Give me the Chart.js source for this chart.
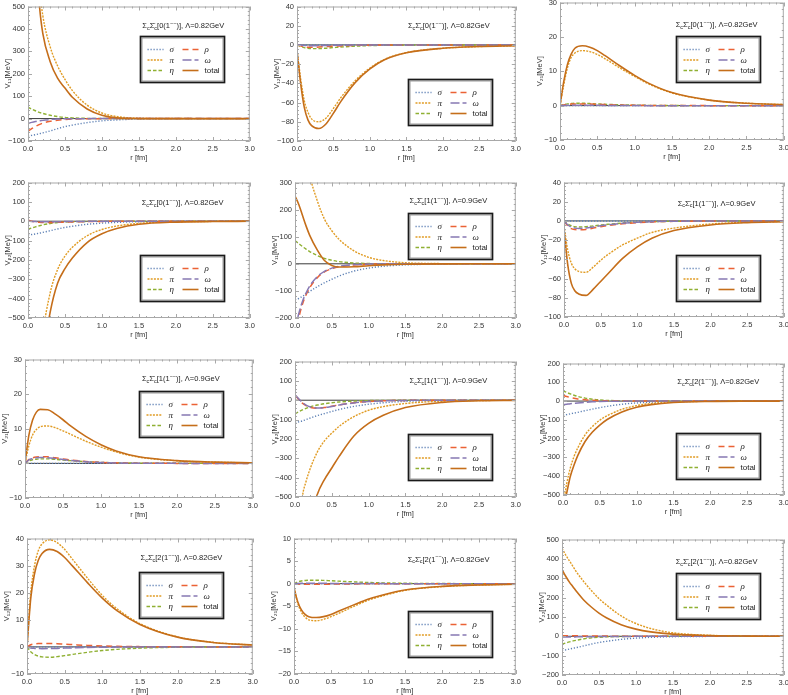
<!DOCTYPE html>
<html>
<head>
<meta charset="utf-8">
<script src="https://cdn.jsdelivr.net/npm/chart.js@4.4.1/dist/chart.umd.min.js"></script>
<style>
  html, body { margin: 0; padding: 0; background: #fff; overflow: hidden; }
  body { width: 788px; height: 695px; position: relative; }
  canvas { position: absolute; }
</style>
</head>
<body>
<script>
// radial grid (fm), shared by every panel
const rValues = [0, 0.05, 0.1, 0.15, 0.2, 0.3, 0.4, 0.5, 0.6, 0.8, 1.0, 1.2, 1.5, 2.0, 2.5, 3.0];

// one row per panel (left to right, top to bottom), values in MeV
const sigmaV = [
  [-78, -75, -72, -68, -64, -55, -45, -36, -29, -18, -10, -6, -2, -0.5, 0, 0],
  [0, 0, 0, 0, 0, 0, 0, 0, 0, 0, 0, 0, 0, 0, 0, 0],
  [0, 0, 0, 0, 0, 0, 0, 0, 0, 0, 0, 0, 0, 0, 0, 0],
  [-70, -69, -66, -62, -58, -49, -40, -32, -26, -16, -10, -6, -2.5, -0.7, -0.2, 0],
  [-132, -128, -120, -112, -102, -85, -70, -57, -45, -27, -16, -9, -4, -1, -0.3, 0],
  [0, 0, 0, 0, 0, 0, 0, 0, 0, 0, 0, 0, 0, 0, 0, 0],
  [0, 0, 0, 0, 0, 0, 0, 0, 0, 0, 0, 0, 0, 0, 0, 0],
  [-115, -112, -107, -100, -93, -80, -69, -58, -48, -32, -21, -13, -6, -1.8, -0.5, -0.1],
  [-75, -72, -68, -64, -60, -51, -43, -35, -28, -17, -10, -6, -2.5, -0.6, -0.1, 0],
  [0, 0, 0, 0, 0, 0, 0, 0, 0, 0, 0, 0, 0, 0, 0, 0],
  [0, 0, 0, 0, 0, 0, 0, 0, 0, 0, 0, 0, 0, 0, 0, 0],
  [-72, -70, -66, -62, -58, -49, -40, -32, -26, -16, -9.5, -5.5, -2.2, -0.6, -0.1, 0]
];
const piV = [
  [2000, 1300, 850, 600, 460, 320, 235, 175, 125, 60, 25, 9, 2, 0.2, 0, 0],
  [-5, -35, -58, -70, -77, -80, -76, -66, -55, -37, -24, -15, -8, -3.5, -1.7, -0.8],
  [0, 6, 11, 14, 15.3, 16, 15.7, 14.9, 13.7, 11, 8.5, 6.2, 3.7, 1.6, 0.7, 0.3],
  [-2500, -1800, -1200, -850, -600, -370, -250, -180, -135, -75, -43, -25, -11, -3, -1, -0.3],
  [800, 650, 520, 420, 330, 235, 165, 122, 90, 48, 24, 12, 4, 0.7, 0.1, 0],
  [-5, -30, -44, -50, -52.5, -53.5, -48, -41, -35, -25, -18, -12, -7.5, -3.2, -1.4, -0.6],
  [0, 5, 8.2, 9.8, 10.6, 10.8, 10.3, 9.4, 8.4, 6.4, 4.7, 3.3, 1.8, 0.75, 0.35, 0.15],
  [-1000, -700, -500, -420, -360, -270, -210, -170, -135, -85, -52, -33, -17, -5, -1.6, -0.5],
  [-560, -440, -355, -295, -250, -180, -135, -102, -78, -44, -24, -13, -5, -1.2, -0.3, 0],
  [0, 20, 30, 35.5, 38, 39.5, 38.5, 36, 32.5, 25.5, 19, 14, 8.6, 3.7, 1.6, 0.7],
  [-1, -4.3, -6.3, -7.4, -8.0, -8.2, -7.9, -7.3, -6.6, -5.1, -3.7, -2.7, -1.5, -0.65, -0.3, -0.12],
  [455, 420, 390, 360, 330, 280, 235, 195, 162, 105, 66, 40, 18, 5, 1.3, 0.3]
];
const etaV = [
  [51, 42, 35, 28, 23, 15, 9, 5, 3, 1, 0.3, 0.1, 0, 0, 0, 0],
  [0, -1.5, -2.8, -3.5, -3.8, -3.8, -3.4, -2.8, -2.2, -1.3, -0.7, -0.4, -0.15, 0, 0, 0],
  [0, 0.3, 0.5, 0.6, 0.7, 0.7, 0.6, 0.5, 0.4, 0.25, 0.15, 0.08, 0.03, 0, 0, 0],
  [-43, -35, -29, -24, -19, -12, -7, -4, -2.5, -1, -0.4, -0.15, 0, 0, 0, 0],
  [85, 75, 64, 54, 45, 31, 20, 13, 8, 3, 1, 0.4, 0.1, 0, 0, 0],
  [0, -3, -5, -6, -6.3, -6, -5.2, -4.3, -3.5, -2.2, -1.3, -0.8, -0.4, -0.1, 0, 0],
  [0, 0.7, 1.05, 1.2, 1.3, 1.3, 1.15, 0.95, 0.78, 0.5, 0.3, 0.18, 0.08, 0.02, 0, 0],
  [-70, -60, -50, -42, -35, -25, -18, -13, -9, -4.5, -2, -1, -0.3, 0, 0, 0],
  [55, 46, 38, 31, 25, 16, 10, 6, 3.5, 1.3, 0.5, 0.2, 0, 0, 0, 0],
  [0, -1.8, -2.8, -3.4, -3.7, -3.8, -3.6, -3.2, -2.8, -2.0, -1.35, -0.9, -0.45, -0.13, -0.04, 0],
  [0, 0.4, 0.6, 0.7, 0.75, 0.77, 0.72, 0.64, 0.56, 0.4, 0.27, 0.18, 0.09, 0.03, 0.01, 0],
  [-42, -35, -29, -24, -20, -13, -8, -5, -3, -1.2, -0.5, -0.2, 0, 0, 0, 0]
];
const rhoV = [
  [-56, -45, -35, -27, -20, -12, -7, -4, -2, -1, -0.3, 0, 0, 0, 0, 0],
  [0, -1, -2, -2.5, -2.5, -2.2, -1.8, -1.3, -1, -0.5, -0.2, -0.1, 0, 0, 0, 0],
  [0, 0.2, 0.35, 0.45, 0.5, 0.5, 0.45, 0.38, 0.3, 0.18, 0.1, 0.05, 0.02, 0, 0, 0],
  [5, 0, -4, -6, -7, -7, -6, -5, -3.5, -2, -1, -0.5, -0.2, 0, 0, 0],
  [-260, -200, -150, -115, -88, -52, -30, -18, -11, -4, -1.5, -0.5, -0.1, 0, 0, 0],
  [0, -5, -8, -9, -9.3, -8.8, -7.5, -6, -4.8, -3, -1.8, -1, -0.4, -0.1, 0, 0],
  [0, 1.1, 1.6, 1.85, 1.95, 1.9, 1.6, 1.3, 1.0, 0.55, 0.3, 0.15, 0.05, 0, 0, 0],
  [25, 5, -15, -28, -36, -41, -38, -31, -24, -13, -6.5, -3, -1, -0.2, 0, 0],
  [30, 24, 19, 15, 11, 6.5, 3.8, 2.2, 1.2, 0.4, 0.1, 0, 0, 0, 0, 0],
  [0, 0.8, 1.1, 1.25, 1.3, 1.3, 1.2, 1.0, 0.85, 0.55, 0.35, 0.2, 0.1, 0.03, 0, 0],
  [0, -0.1, -0.15, -0.15, -0.15, -0.14, -0.12, -0.1, -0.08, -0.05, -0.03, -0.02, 0, 0, 0, 0],
  [3, 3, 2.8, 2.6, 2.4, 2, 1.6, 1.3, 1, 0.6, 0.3, 0.15, 0.05, 0, 0, 0]
];
const omegaV = [
  [-22, -17, -13, -10, -8, -4, -2, -1, -0.5, -0.2, 0, 0, 0, 0, 0, 0],
  [0, -0.3, -0.6, -0.8, -0.8, -0.7, -0.6, -0.4, -0.3, -0.15, -0.05, 0, 0, 0, 0, 0],
  [0, 0.05, 0.1, 0.12, 0.13, 0.12, 0.1, 0.08, 0.06, 0.03, 0.01, 0, 0, 0, 0, 0],
  [0, -1, -2, -2.5, -3, -3, -2.5, -2, -1.5, -0.8, -0.4, -0.2, 0, 0, 0, 0],
  [-240, -185, -140, -108, -82, -48, -28, -16, -9, -3, -1, -0.3, 0, 0, 0, 0],
  [0, -4, -6.5, -7.5, -7.8, -7.3, -6.2, -5, -4, -2.5, -1.5, -0.8, -0.3, -0.1, 0, 0],
  [0, 1.0, 1.4, 1.6, 1.7, 1.65, 1.4, 1.1, 0.85, 0.45, 0.25, 0.12, 0.04, 0, 0, 0],
  [28, 8, -12, -25, -34, -40, -38, -32, -25, -14, -7, -3.5, -1, -0.2, 0, 0],
  [-20, -17, -14, -12, -10, -6.5, -4, -2.5, -1.5, -0.5, -0.2, 0, 0, 0, 0, 0],
  [0, -0.4, -0.55, -0.6, -0.65, -0.62, -0.55, -0.45, -0.37, -0.22, -0.13, -0.07, -0.02, 0, 0, 0],
  [0, 0.05, 0.08, 0.09, 0.09, 0.08, 0.07, 0.06, 0.05, 0.03, 0.02, 0.01, 0, 0, 0, 0],
  [-4, -3.8, -3.5, -3.2, -3, -2.5, -2, -1.6, -1.2, -0.7, -0.4, -0.2, -0.05, 0, 0, 0]
];
const totalV = [
  [1900, 1200, 760, 520, 380, 254, 180, 136, 95, 43, 15, 3, 0, -0.3, 0, 0],
  [-6, -40, -65, -78, -84, -87, -82, -71, -59, -39, -25, -15.5, -8.2, -3.5, -1.7, -0.8],
  [0, 7, 12, 15, 16.7, 17.4, 17, 16, 14.6, 11.6, 8.8, 6.4, 3.8, 1.6, 0.7, 0.3],
  [-2600, -1900, -1300, -950, -720, -470, -320, -245, -190, -110, -65, -38, -16, -4.5, -1.5, -0.5],
  [250, 220, 180, 140, 105, 52, 12, -6, -12, -11, -7, -4, -1.5, -0.3, 0, 0],
  [-8, -45, -65, -73, -76, -77.5, -71, -63, -55, -39, -27, -18, -10, -4.2, -1.8, -0.8],
  [0, 8, 12.5, 14.8, 15.6, 15.5, 14.2, 12.6, 10.8, 7.8, 5.4, 3.6, 1.9, 0.8, 0.35, 0.15],
  [-1500, -1200, -950, -780, -640, -490, -410, -350, -290, -185, -120, -78, -38, -11, -3, -1],
  [-580, -490, -400, -340, -290, -215, -165, -128, -98, -58, -33, -19, -8, -2, -0.4, -0.1],
  [0, 18, 27, 32, 34.5, 36, 35.2, 33, 30, 23.8, 18, 13.3, 8.3, 3.6, 1.55, 0.7],
  [-0.9, -4.0, -5.8, -6.8, -7.3, -7.5, -7.3, -6.8, -6.1, -4.75, -3.45, -2.5, -1.4, -0.6, -0.28, -0.12],
  [345, 310, 280, 255, 230, 185, 150, 120, 96, 60, 37, 23, 11, 3.5, 1, 0.3]
];

const yTitles = ['V₁₁[MeV]', 'V₁₂[MeV]', 'V₂₁[MeV]', 'V₂₂[MeV]',
                 'V₁₁[MeV]', 'V₁₂[MeV]', 'V₂₁[MeV]', 'V₂₂[MeV]',
                 'V₁₁[MeV]', 'V₁₂[MeV]', 'V₂₁[MeV]', 'V₂₂[MeV]'];
const isospin = [0, 0, 0, 0, 1, 1, 1, 1, 2, 2, 2, 2];
const cutoffs = ['0.82', '0.82', '0.82', '0.82', '0.9', '0.9', '0.9', '0.9', '0.82', '0.82', '0.82', '0.82'];
const yMins  = [-100, -100, -10, -500, -200, -100, -10, -500, -500, -10, -20, -200];
const yMaxs  = [500, 40, 30, 200, 300, 40, 30, 200, 200, 40, 10, 500];
const ySteps = [100, 20, 10, 100, 100, 20, 10, 100, 100, 10, 5, 100];

const legendNames = ['σ', 'π', 'η', 'ρ', 'ω', 'total'];

// ---- layout / style (not data) ----
// plot area of each panel in page pixels: left, top, right, bottom
const plotRects = [
  [28, 5, 250, 141], [297, 5, 516, 141], [560, 1, 784, 140],
  [28, 181, 250, 318], [295, 181, 516, 318], [564, 181, 784, 317],
  [25, 358, 253, 498], [295, 360, 516, 497], [563, 362, 784, 495],
  [27, 537, 253, 674], [294, 537, 516, 674], [562, 538, 784, 675]
];
// legend top-left and title centre, as fractions of the plot area
const legendPos = [
  [0.505, 0.22], [0.507, 0.537], [0.518, 0.245],
  [0.505, 0.533], [0.51, 0.228], [0.51, 0.539],
  [0.501, 0.224], [0.51, 0.535], [0.513, 0.53],
  [0.497, 0.246], [0.512, 0.538], [0.515, 0.246]
];
const titlePos = [
  [0.70, 0.147], [0.694, 0.147], [0.70, 0.165],
  [0.697, 0.153], [0.695, 0.139], [0.694, 0.157],
  [0.684, 0.14], [0.695, 0.146], [0.703, 0.143],
  [0.684, 0.144], [0.697, 0.155], [0.697, 0.166]
];

const styles = {
  'σ':     { color: '#5E81B5', dash: [1.2, 1.8], width: 1.4 },
  'π':     { color: '#E19C24', dash: [2, 1.2], width: 1.4 },
  'η':     { color: '#8FB032', dash: [3.5, 2], width: 1.4 },
  'ρ':     { color: '#EB6235', dash: [6, 4], width: 1.5 },
  'ω':     { color: '#8778B3', dash: [9, 3], width: 1.5 },
  'total': { color: '#C56E1A', dash: [], width: 1.6 }
};

const YW = 26, TP = 6, RP = 8, XH = 24;
const tickFont = { family: '"Liberation Sans", Arial, sans-serif', size: 7.5 };
const textColor = '#333';

function minusLabel(v) {
  return v < 0 ? '\u2212' + Math.abs(v) : String(v);
}

function titleParts(i) {
  return [
    { t: 'Σ' }, { t: 'c', sub: true }, { t: 'Σ\u0304' }, { t: 'c', sub: true },
    { t: '[' + isospin[i] + '(1' }, { t: '\u2212\u2212', sup: true },
    { t: ')], Λ=' + cutoffs[i] + 'GeV' }
  ];
}

// frame with inward ticks, zero axis, inset title and legend box
const panelDecor = {
  id: 'panelDecor',
  beforeDatasetsDraw(chart) {
    const { ctx, chartArea: a, scales: { y } } = chart;
    const y0 = y.getPixelForValue(0);
    ctx.save();
    ctx.strokeStyle = '#3a3a3a';
    ctx.lineWidth = 1;
    ctx.beginPath();
    ctx.moveTo(a.left, y0);
    ctx.lineTo(a.right, y0);
    ctx.stroke();
    ctx.restore();
  },
  afterDatasetsDraw(chart) {
    const i = +chart.canvas.dataset.panel;
    const { ctx, chartArea: a, scales: { x, y } } = chart;
    ctx.save();

    // frame
    ctx.strokeStyle = '#a8a8a8';
    ctx.lineWidth = 1;
    ctx.strokeRect(a.left + 0.5, a.top + 0.5, a.width - 1, a.height - 1);

    // x ticks
    ctx.beginPath();
    for (let k = 0; k <= 30; k++) {
      const px = Math.round(x.getPixelForValue(k / 10)) + 0.5;
      const len = k % 5 === 0 ? 4 : 2;
      ctx.moveTo(px, a.bottom); ctx.lineTo(px, a.bottom - len);
      ctx.moveTo(px, a.top); ctx.lineTo(px, a.top + len);
    }
    // y ticks
    const minor = ySteps[i] / 5;
    const n = Math.round((yMaxs[i] - yMins[i]) / minor);
    for (let k = 0; k <= n; k++) {
      const v = yMins[i] + k * minor;
      const py = Math.round(y.getPixelForValue(v)) + 0.5;
      const len = k % 5 === 0 ? 4 : 2;
      ctx.moveTo(a.left, py); ctx.lineTo(a.left + len, py);
      ctx.moveTo(a.right, py); ctx.lineTo(a.right - len, py);
    }
    ctx.stroke();

    // inset title
    const parts = titleParts(i);
    const main = '7.5px "Liberation Sans", Arial, sans-serif';
    const small = '5.5px "Liberation Sans", Arial, sans-serif';
    let w = 0;
    parts.forEach(p => { ctx.font = (p.sub || p.sup) ? small : main; p.w = ctx.measureText(p.t).width; w += p.w; });
    let tx = a.left + titlePos[i][0] * a.width - w / 2;
    const ty = a.top + titlePos[i][1] * a.height;
    ctx.fillStyle = '#222';
    ctx.textBaseline = 'middle';
    ctx.textAlign = 'left';
    parts.forEach(p => {
      ctx.font = (p.sub || p.sup) ? small : main;
      ctx.fillText(p.t, tx, ty + (p.sub ? 2.2 : p.sup ? -2.6 : 0));
      tx += p.w;
    });

    // legend box
    const bx = Math.round(a.left + legendPos[i][0] * a.width) + 0.5;
    const by = Math.round(a.top + legendPos[i][1] * a.height) + 0.5;
    const bw = 84, bh = 46;
    ctx.fillStyle = '#fff';
    ctx.fillRect(bx, by, bw, bh);
    ctx.strokeStyle = '#9a9a9a';
    ctx.lineWidth = 1;
    ctx.strokeRect(bx + 1.5, by + 1.5, bw - 3, bh - 3);
    ctx.strokeStyle = '#1a1a1a';
    ctx.lineWidth = 1.7;
    ctx.strokeRect(bx, by, bw, bh);

    legendNames.forEach((name, k) => {
      const col = k < 3 ? 0 : 1;
      const row = k % 3;
      const lx = bx + (col === 0 ? 7 : 42);
      const ly = by + 13 + row * 10.5;
      const st = styles[name];
      ctx.strokeStyle = st.color;
      ctx.lineWidth = st.width;
      ctx.setLineDash(st.dash);
      ctx.beginPath();
      ctx.moveTo(lx, ly); ctx.lineTo(lx + 16, ly);
      ctx.stroke();
      ctx.setLineDash([]);
      ctx.fillStyle = '#222';
      ctx.font = name === 'total'
        ? '8px "Liberation Sans", Arial, sans-serif'
        : 'italic 9px "Liberation Serif", "DejaVu Serif", serif';
      ctx.fillText(name, lx + 22, ly + 0.5);
    });
    ctx.restore();
  }
};

const seriesByName = { 'σ': sigmaV, 'π': piV, 'η': etaV, 'ρ': rhoV, 'ω': omegaV, 'total': totalV };
// first dataset is drawn last, so "total" goes first to sit on top
const drawOrder = ['total', 'ω', 'ρ', 'η', 'π', 'σ'];

plotRects.forEach((rect, i) => {
  const [l, t, r, b] = rect;
  const W = r - l + YW + RP;
  const H = b - t + TP + XH;
  const canvas = document.createElement('canvas');
  canvas.width = W;
  canvas.height = H;
  canvas.style.left = (l - YW) + 'px';
  canvas.style.top = (t - TP) + 'px';
  canvas.style.width = W + 'px';
  canvas.style.height = H + 'px';
  canvas.dataset.panel = i;
  document.body.appendChild(canvas);

  new Chart(canvas.getContext('2d'), {
    type: 'line',
    data: {
      datasets: drawOrder.map(name => ({
        label: name,
        data: rValues.map((rv, k) => ({ x: rv, y: seriesByName[name][i][k] })),
        borderColor: styles[name].color,
        borderDash: styles[name].dash,
        borderWidth: styles[name].width,
        pointRadius: 0,
        fill: false,
        cubicInterpolationMode: 'monotone'
      }))
    },
    options: {
      responsive: false,
      animation: false,
      devicePixelRatio: 1,
      layout: { padding: { top: TP, right: RP, left: 0, bottom: 0 } },
      plugins: {
        legend: { display: false },
        tooltip: { enabled: false }
      },
      scales: {
        x: {
          type: 'linear',
          min: 0,
          max: 3,
          grid: { display: false, drawTicks: false },
          border: { display: false },
          ticks: {
            stepSize: 0.5,
            autoSkip: false,
            maxRotation: 0,
            padding: 3,
            font: tickFont,
            color: textColor,
            callback: v => Number(v).toFixed(1)
          },
          title: {
            display: true,
            text: 'r [fm]',
            font: tickFont,
            color: textColor,
            padding: { top: 0, bottom: 3 }
          },
          afterFit: s => { s.height = XH; }
        },
        y: {
          type: 'linear',
          min: yMins[i],
          max: yMaxs[i],
          grid: { display: false, drawTicks: false },
          border: { display: false },
          ticks: {
            stepSize: ySteps[i],
            autoSkip: false,
            padding: 3,
            font: tickFont,
            color: textColor,
            callback: v => minusLabel(v)
          },
          title: {
            display: true,
            text: yTitles[i],
            font: tickFont,
            color: textColor,
            padding: { top: 1.5, bottom: 0 }
          },
          afterFit: s => { s.width = YW; }
        }
      }
    },
    plugins: [panelDecor]
  });
});
</script>
</body>
</html>
